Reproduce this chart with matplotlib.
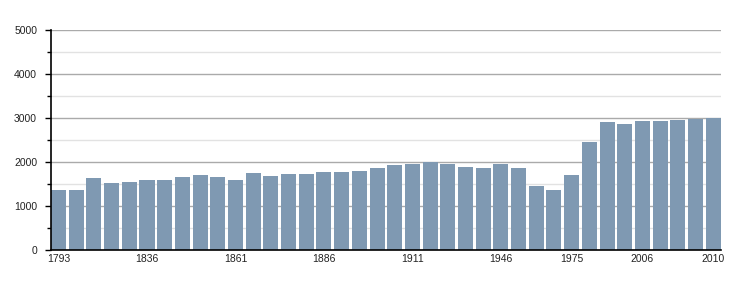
import matplotlib.pyplot as plt
from matplotlib.ticker import MultipleLocator

years = [1793, 1800, 1806, 1821, 1831, 1836, 1841, 1846, 1851, 1856,
         1861, 1866, 1872, 1876, 1881, 1886, 1891, 1896, 1901, 1906,
         1911, 1921, 1926, 1931, 1936, 1946, 1954, 1962, 1968, 1975,
         1982, 1990, 1999, 2006, 2007, 2008, 2009, 2010]
population = [1370, 1370, 1640, 1525, 1550, 1595, 1595, 1665, 1710, 1665,
              1595, 1755, 1685, 1730, 1730, 1775, 1775, 1800, 1865, 1935,
              1960, 2005, 1960, 1890, 1865, 1960, 1865, 1460, 1370, 1710,
              2460, 2915, 2870, 2935, 2935, 2960, 2985, 3005]
shown_years = [1793, 1836, 1861, 1886, 1911, 1946, 1975, 2006, 2010]

plt.rcParams['font.family'] = ['Liberation Sans', 'DejaVu Sans']

fig = plt.figure(figsize=(7.5, 3), dpi=100)
ax = fig.add_axes([0.068, 0.1667, 0.893, 0.7333])

x = list(range(len(years)))
w = 0.85
ax.bar(x, population, width=w, color='#7f99b2', zorder=2)

ax.set_xlim(-w / 2, len(years) - 1 + w / 2)
ax.set_ylim(0, 5000)

ax.yaxis.set_major_locator(MultipleLocator(1000))
ax.yaxis.set_minor_locator(MultipleLocator(500))
ax.grid(axis='y', which='major', color='#aaaaaa', linewidth=1, zorder=0)
ax.grid(axis='y', which='minor', color='#e2e2e2', linewidth=1, zorder=0)

tick_pos = [years.index(y) for y in shown_years]
ax.set_xticks(tick_pos)
ax.set_xticklabels([str(y) for y in shown_years])
ax.tick_params(axis='x', length=0, pad=3, labelsize=7.5, colors='#222222')
ax.tick_params(axis='y', which='major', length=4, width=1, labelsize=7.5,
               colors='#000000', labelcolor='#222222', pad=6)
ax.tick_params(axis='y', which='minor', length=3, width=1)

for s in ['top', 'right']:
    ax.spines[s].set_visible(False)
ax.spines['left'].set_linewidth(1.2)
ax.spines['bottom'].set_linewidth(1.2)

fig.savefig('out.png', dpi=100)
